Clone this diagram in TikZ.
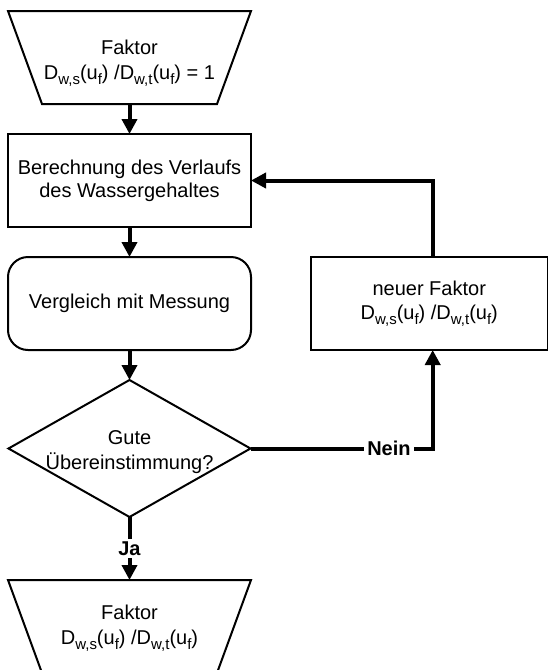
\documentclass[tikz,border=0pt]{standalone}
\usepackage{fontspec}
\setmainfont{Liberation Sans}
\usetikzlibrary{arrows.meta,calc}
\newcommand{\dsub}[1]{\raisebox{-5.5pt}{\fontsize{15}{15}\selectfont #1}}
\newcommand{\dratio}{D\dsub{w,s}(u\dsub{f}) /D\dsub{w,t}(u\dsub{f})}

\begin{document}
\begin{tikzpicture}[x=1pt,y=-1pt,
  frame/.style={minimum width=243pt, minimum height=93pt, inner sep=0pt, outer sep=0pt},
  txt/.style={align=center, font=\fontsize{20}{23}\selectfont, inner sep=0pt},
  outline/.style={draw=black, line width=2pt},
  flow/.style={draw=black, line width=4pt, -{Triangle[length=15pt,width=15pt]}},
  lbl/.style={fill=white, font=\fontsize{20}{23}\selectfont\bfseries, inner sep=3pt}]
\clip (0,0) rectangle (548,670);

% start: inverted trapezium
\node[frame] (start) at (129.5,57.5) {};
\draw[outline] (start.north west) -- (start.north east)
  -- ([xshift=-34pt]start.south east) -- ([xshift=34pt]start.south west) -- cycle;
\node[txt] (starttext) at (129.5,63) {Faktor\\[2pt]\dratio{} = 1};

% computation step
\node[frame, outline, txt] (calc) at (129.5,180.5) {Berechnung des Verlaufs\\des Wassergehaltes};

% comparison step
\node[frame, outline, txt, rounded corners=20pt] (cmp) at (129.5,303.5) {Vergleich mit Messung};

% decision
\node[frame, minimum width=242pt, minimum height=137pt] (dia) at (129.5,448.5) {};
\draw[outline] (dia.north) -- (dia.east) -- (dia.south) -- (dia.west) -- cycle;
\node[txt] (diatext) at (129.5,452) {Gute\\[2pt]Übereinstimmung?};

% new factor
\node[frame, outline, txt, minimum width=236.5pt] (new) at (429.25,303.5) {neuer Faktor\\[1pt]\dratio};

% end: inverted trapezium
\node[frame] (end) at (129.5,626.5) {};
\draw[outline] (end.north west) -- (end.north east)
  -- ([xshift=-34pt]end.south east) -- ([xshift=34pt]end.south west) -- cycle;
\node[txt] (endtext) at (129.5,628) {Faktor\\[2pt]\dratio};

% loop column
\coordinate (loopx) at (432.7,0);

% connectors
\draw[flow] (start.south) -- (calc.north);
\draw[flow] (calc.south) -- (cmp.north);
\draw[flow] (cmp.south) -- (dia.north);
\draw[flow] (dia.east) -- node[lbl, pos=0.76] {Nein} (dia.east -| loopx) -- (new.south -| loopx);
\draw[flow] (new.north -| loopx) |- (calc.east);
\draw[flow] (dia.south) -- node[lbl] {Ja} (end.north);
\end{tikzpicture}
\end{document}
